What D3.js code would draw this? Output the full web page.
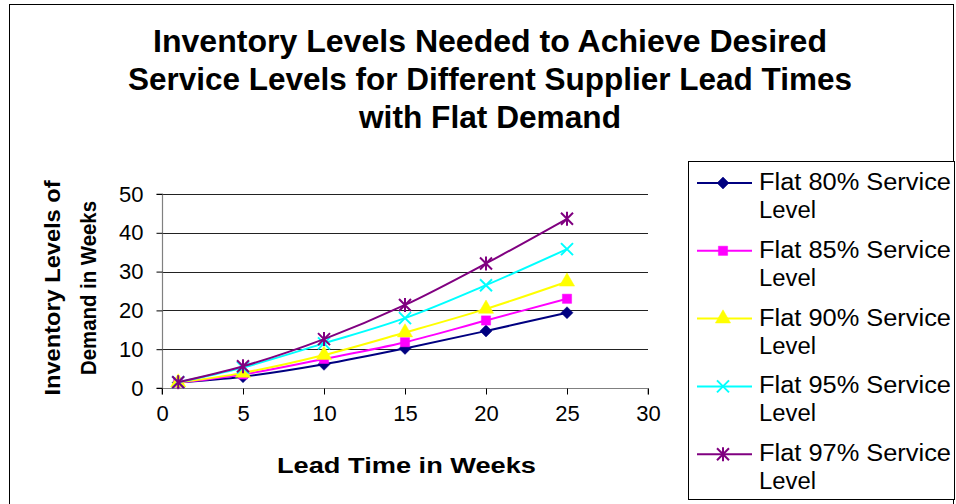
<!DOCTYPE html>
<html>
<head>
<meta charset="utf-8">
<script src="https://cdn.jsdelivr.net/npm/d3@7"></script>
<style>
  html, body { margin: 0; padding: 0; background: #fff; }
  svg { display: block; font-family: Arial, "Liberation Sans", sans-serif; }
</style>
</head>
<body>
<svg id="chart" width="956" height="504"></svg>
<script>
// Lead times (weeks) along the x axis
const leadTimes = [1, 5, 10, 15, 20, 25];

// Inventory needed (weeks of demand) per service level
const flat80 = [1.4, 2.9, 6.1, 10.2, 14.7, 19.4];
const flat85 = [1.4, 3.5, 7.5, 11.8, 17.4, 23.0];
const flat90 = [1.4, 3.9, 8.5, 14.3, 20.4, 27.4];
const flat95 = [1.5, 5.3, 11.5, 18.0, 26.5, 35.8];
const flat97 = [1.5, 5.6, 12.6, 21.4, 32.1, 43.6];

const seriesNames = [
  "Flat 80% Service Level",
  "Flat 85% Service Level",
  "Flat 90% Service Level",
  "Flat 95% Service Level",
  "Flat 97% Service Level"
];
const seriesValues = [flat80, flat85, flat90, flat95, flat97];
const seriesColors = ["#000080", "#FF00FF", "#FFFF00", "#00FFFF", "#800080"];
const seriesMarkers = ["diamond", "square", "triangle", "cross", "star"];

const xTicks = [0, 5, 10, 15, 20, 25, 30];
const yTicks = [0, 10, 20, 30, 40, 50];

const titleLines = [
  "Inventory Levels Needed to Achieve Desired",
  "Service Levels for Different Supplier Lead Times",
  "with Flat Demand"
];
const titleWidths = [674, 724, 262];
const yTitleLines = ["Inventory Levels of", "Demand in Weeks"];
const yTitleWidths = [215, 174];
const xTitle = "Lead Time in Weeks";

const svg = d3.select("#chart");

// Outer chart frame
svg.append("rect")
  .attr("x", 9.5).attr("y", 4.5)
  .attr("width", 944).attr("height", 510)
  .attr("fill", "none").attr("stroke", "#000").attr("stroke-width", 1);

const plot = { left: 162, right: 648, top: 194, bottom: 388 };

const x = d3.scaleLinear().domain([0, 30]).range([plot.left, plot.right]);
const y = d3.scaleLinear().domain([0, 50]).range([plot.bottom, plot.top]);

// Horizontal gridlines
svg.append("g")
  .selectAll("line")
  .data(yTicks.filter(d => d > 0))
  .join("line")
  .attr("x1", plot.left).attr("x2", plot.right)
  .attr("y1", d => Math.round(y(d)) + 0.5).attr("y2", d => Math.round(y(d)) + 0.5)
  .attr("stroke", "#222").attr("stroke-width", 1);

// Axes
const xAxis = d3.axisBottom(x).tickValues(xTicks).tickSize(6).tickPadding(11).tickFormat(d3.format("d"));
const yAxis = d3.axisLeft(y).tickValues(yTicks).tickSize(6).tickPadding(13).tickFormat(d3.format("d"));

const gx = svg.append("g")
  .attr("transform", `translate(0,${plot.bottom + 0.5})`)
  .call(xAxis);
const gy = svg.append("g")
  .attr("transform", `translate(${plot.left + 0.5},0)`)
  .call(yAxis);

[gx, gy].forEach(g => {
  g.select(".domain").attr("stroke", "#808080").attr("stroke-width", 1.2);
  g.selectAll(".tick line").attr("stroke", "#000");
  g.selectAll(".tick text")
    .attr("fill", "#000")
    .attr("font-size", 22)
    .attr("font-family", "Arial, 'Liberation Sans', sans-serif");
});
gy.select(".domain").attr("d", `M-6,${plot.top}H0V${plot.bottom}H-6`);
gx.select(".domain").attr("d", `M${plot.left},6V0H${plot.right}V6`);

// Series lines (smoothed)
const line = d3.line()
  .x((d, i) => x(leadTimes[i]))
  .y(d => y(d))
  .curve(d3.curveCatmullRom.alpha(0.5));

// Custom symbol: square diamond (equal width and height)
const squareDiamond = {
  draw(context, size) {
    const r = Math.sqrt(size / 2);
    context.moveTo(0, -r);
    context.lineTo(r, 0);
    context.lineTo(0, r);
    context.lineTo(-r, 0);
    context.closePath();
  }
};

const symbolFor = {
  diamond: d3.symbol().type(squareDiamond).size(72),
  square: d3.symbol().type(d3.symbolSquare).size(85),
  triangle: d3.symbol().type(d3.symbolTriangle).size(100)
};

function drawMarker(g, kind, color) {
  if (symbolFor[kind]) {
    g.append("path").attr("d", symbolFor[kind]()).attr("fill", color).attr("stroke", color).attr("stroke-width", 0.5);
  } else {
    const r = 6;
    g.append("path")
      .attr("d", `M${-r},${-r}L${r},${r}M${-r},${r}L${r},${-r}`)
      .attr("stroke", color).attr("stroke-width", 2).attr("fill", "none");
    if (kind === "star") {
      g.append("path")
        .attr("d", `M0,${-r - 1}V${r + 1}`)
        .attr("stroke", color).attr("stroke-width", 2).attr("fill", "none");
    }
  }
}

const seriesG = svg.append("g");
seriesValues.forEach((vals, s) => {
  const g = seriesG.append("g");
  g.append("path")
    .datum(vals)
    .attr("d", line)
    .attr("fill", "none")
    .attr("stroke", seriesColors[s])
    .attr("stroke-width", 2);
  g.selectAll("g.pt")
    .data(vals)
    .join("g")
    .attr("class", "pt")
    .attr("transform", (d, i) => `translate(${x(leadTimes[i])},${y(d)})`)
    .each(function () { drawMarker(d3.select(this), seriesMarkers[s], seriesColors[s]); });
});

// Chart title
svg.append("g")
  .selectAll("text")
  .data(titleLines)
  .join("text")
  .attr("x", 490)
  .attr("y", (d, i) => 52 + i * 38)
  .attr("text-anchor", "middle")
  .attr("font-size", 31).attr("font-weight", "bold")
  .attr("textLength", (d, i) => titleWidths[i])
  .attr("lengthAdjust", "spacingAndGlyphs")
  .text(d => d);

// Y axis title (two rotated lines)
svg.append("g")
  .attr("transform", "translate(0,288) rotate(-90)")
  .selectAll("text")
  .data(yTitleLines)
  .join("text")
  .attr("x", 0)
  .attr("y", (d, i) => 60 + i * 36)
  .attr("text-anchor", "middle")
  .attr("font-size", 22).attr("font-weight", "bold")
  .attr("textLength", (d, i) => yTitleWidths[i])
  .attr("lengthAdjust", "spacingAndGlyphs")
  .text(d => d);

// X axis title
svg.append("text")
  .attr("x", 406.5).attr("y", 473)
  .attr("text-anchor", "middle")
  .attr("font-size", 22.5).attr("font-weight", "bold")
  .attr("textLength", 259)
  .attr("lengthAdjust", "spacingAndGlyphs")
  .text(xTitle);

// Legend
const legend = svg.append("g");
legend.append("rect")
  .attr("x", 688.5).attr("y", 161.5)
  .attr("width", 266).attr("height", 338)
  .attr("fill", "#fff").attr("stroke", "#000").attr("stroke-width", 1);

seriesNames.forEach((name, s) => {
  const cy = 183 + s * 67.8;
  const g = legend.append("g");
  g.append("line")
    .attr("x1", 697).attr("x2", 752)
    .attr("y1", cy).attr("y2", cy)
    .attr("stroke", seriesColors[s]).attr("stroke-width", 2);
  drawMarker(g.append("g").attr("transform", `translate(723,${cy})`), seriesMarkers[s], seriesColors[s]);
  const words = name.split(" ");
  g.append("text")
    .attr("x", 759).attr("y", cy + 7)
    .attr("font-size", 23)
    .attr("textLength", 192).attr("lengthAdjust", "spacingAndGlyphs")
    .text(words.slice(0, 3).join(" "));
  g.append("text")
    .attr("x", 759).attr("y", cy + 35)
    .attr("font-size", 23)
    .attr("textLength", 57).attr("lengthAdjust", "spacingAndGlyphs")
    .text(words.slice(3).join(" "));
});
</script>
</body>
</html>
